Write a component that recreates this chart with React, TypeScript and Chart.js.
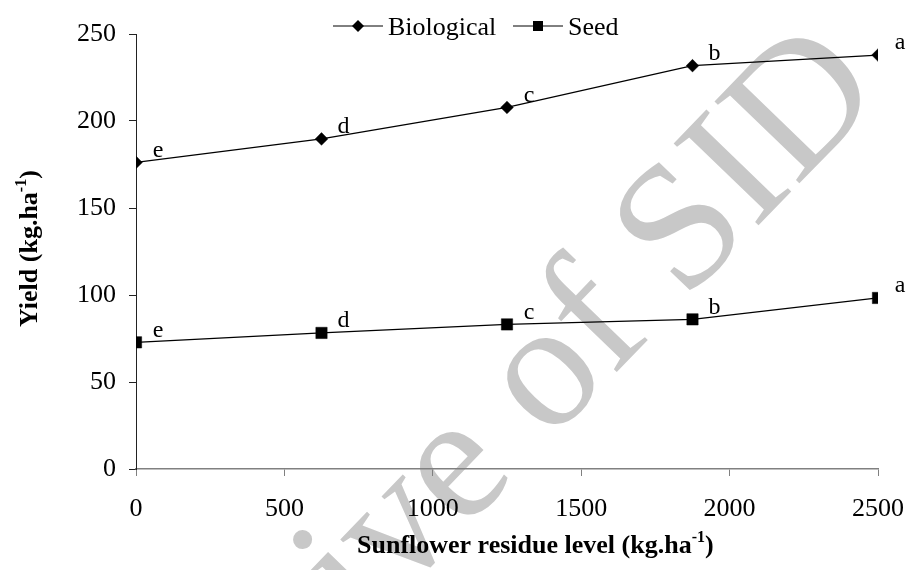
import React, { useEffect, useRef } from "react";
import { Chart, registerables } from "chart.js";

Chart.register(...registerables);

const residueLevels = [0, 625, 1250, 1875, 2500];
const biologicalYield = [176.2, 189.7, 207.8, 231.8, 237.9];
const seedYield = [72.8, 78.2, 83.1, 86.0, 98.3];
const biologicalLetters = ["e", "d", "c", "b", "a"];
const seedLetters = ["e", "d", "c", "b", "a"];
const seriesNames = ["Biological", "Seed"];
const xTitle = "Sunflower residue level (kg.ha";
const yTitle = "Yield (kg.ha";
const watermark = "Archive of SID";

const SERIF = '"Liberation Serif", "Times New Roman", serif';

function drawMarker(ctx: CanvasRenderingContext2D, kind: string, x: number, y: number, r: number) {
  ctx.beginPath();
  if (kind === "diamond") {
    ctx.moveTo(x, y - r);
    ctx.lineTo(x + r, y);
    ctx.lineTo(x, y + r);
    ctx.lineTo(x - r, y);
    ctx.closePath();
  } else {
    ctx.rect(x - r, y - r, 2 * r, 2 * r);
  }
  ctx.fill();
}

const watermarkPlugin = {
  id: "watermark",
  beforeDraw(chart: any) {
    const ctx = chart.ctx as CanvasRenderingContext2D;
    ctx.save();
    ctx.translate(754, 230);
    ctx.rotate((-46 * Math.PI) / 180);
    ctx.font = `180px ${SERIF}`;
    ctx.fillStyle = "rgb(200,200,200)";
    ctx.textBaseline = "alphabetic";
    ctx.textAlign = "left";
    const w = ctx.measureText("Archive of S").width;
    ctx.fillText(watermark, -w, 0);
    ctx.restore();
  },
};

const decorPlugin = {
  id: "decor",
  afterDatasetsDraw(chart: any) {
    const ctx = chart.ctx as CanvasRenderingContext2D;
    ctx.save();
    ctx.fillStyle = "#000";
    ctx.font = `24px ${SERIF}`;
    ctx.textAlign = "center";
    ctx.textBaseline = "middle";
    const letterSets = [biologicalLetters, seedLetters];
    letterSets.forEach((letters, di) => {
      const meta = chart.getDatasetMeta(di);
      meta.data.forEach((pt: any, i: number) => {
        ctx.fillText(letters[i], pt.x + 22, pt.y - 12);
      });
    });
    ctx.restore();
  },
  afterDraw(chart: any) {
    const ctx = chart.ctx as CanvasRenderingContext2D;
    ctx.save();
    ctx.fillStyle = "#000";
    ctx.strokeStyle = "#000";
    ctx.lineWidth = 1;

    // Legend
    const ly = 26;
    const items = [
      { name: seriesNames[0], kind: "diamond", x0: 333, r: 6 },
      { name: seriesNames[1], kind: "square", x0: 513, r: 5 },
    ];
    ctx.font = `26px ${SERIF}`;
    ctx.textBaseline = "alphabetic";
    ctx.textAlign = "left";
    items.forEach((it) => {
      ctx.beginPath();
      ctx.moveTo(it.x0, ly);
      ctx.lineTo(it.x0 + 50, ly);
      ctx.stroke();
      drawMarker(ctx, it.kind, it.x0 + 25, ly, it.r);
      ctx.fillText(it.name, it.x0 + 55, 35);
    });

    // X title
    const big = `bold 26px ${SERIF}`;
    const small = `bold 16px ${SERIF}`;
    let x = 357;
    const by = 553;
    ctx.font = big;
    ctx.fillText(xTitle, x, by);
    x += ctx.measureText(xTitle).width;
    ctx.font = small;
    ctx.fillText("-1", x, by - 11);
    x += ctx.measureText("-1").width;
    ctx.font = big;
    ctx.fillText(")", x, by);

    // Y title
    ctx.save();
    ctx.translate(37, 327);
    ctx.rotate(-Math.PI / 2);
    let t = 0;
    ctx.font = big;
    ctx.fillText(yTitle, t, 0);
    t += ctx.measureText(yTitle).width;
    ctx.font = small;
    ctx.fillText("-1", t, -11);
    t += ctx.measureText("-1").width;
    ctx.font = big;
    ctx.fillText(")", t, 0);
    ctx.restore();

    ctx.restore();
  },
};

export default function App() {
  const ref = useRef<HTMLCanvasElement | null>(null);
  useEffect(() => {
    if (!ref.current) return;
    const tickFont = { family: SERIF, size: 26 };
    const chart = new Chart(ref.current, {
      type: "line",
      data: {
        datasets: [
          {
            label: seriesNames[0],
            data: residueLevels.map((x, i) => ({ x, y: biologicalYield[i] })),
            borderColor: "#000",
            backgroundColor: "#000",
            borderWidth: 1.2,
            pointStyle: "rectRot",
            pointRadius: 6.3,
            pointBorderWidth: 0.5,
            tension: 0,
          },
          {
            label: seriesNames[1],
            data: residueLevels.map((x, i) => ({ x, y: seedYield[i] })),
            borderColor: "#000",
            backgroundColor: "#000",
            borderWidth: 1.2,
            pointStyle: "rect",
            pointRadius: 8,
            pointBorderWidth: 0.5,
            tension: 0,
          },
        ],
      },
      options: {
        responsive: false,
        animation: false,
        layout: { padding: { top: 34, right: 28, left: 0, bottom: 0 } },
        plugins: { legend: { display: false }, tooltip: { enabled: false }, title: { display: false } },
        scales: {
          x: {
            type: "linear",
            min: 0,
            max: 2500,
            ticks: {
              stepSize: 500,
              font: tickFont,
              color: "#000",
              padding: 18,
              maxRotation: 0,
              callback: (v: any) => String(v),
            },
            grid: { display: true, drawOnChartArea: false, drawTicks: true, tickLength: 7, color: "#808080" },
            border: { display: true, color: "#808080", width: 1.5 },
            afterFit: (s: any) => {
              s.height = 101;
              s.paddingLeft = 0;
              s.paddingRight = 0;
            },
          },
          y: {
            min: 0,
            max: 250,
            ticks: { stepSize: 50, font: tickFont, color: "#000", padding: 13, callback: (v: any) => String(v) },
            grid: { display: true, drawOnChartArea: false, drawTicks: true, tickLength: 7, color: "#222" },
            border: { display: true, color: "#222", width: 1 },
            afterFit: (s: any) => {
              s.width = 136;
              s.paddingTop = 0;
              s.paddingBottom = 0;
            },
          },
        },
      },
      plugins: [watermarkPlugin, decorPlugin],
    } as any);
    return () => chart.destroy();
  }, []);
  return (
    <div style={{ position: "absolute", left: 0, top: 0, width: 906, height: 570 }}>
      <canvas ref={ref} width={906} height={570} />
    </div>
  );
}
